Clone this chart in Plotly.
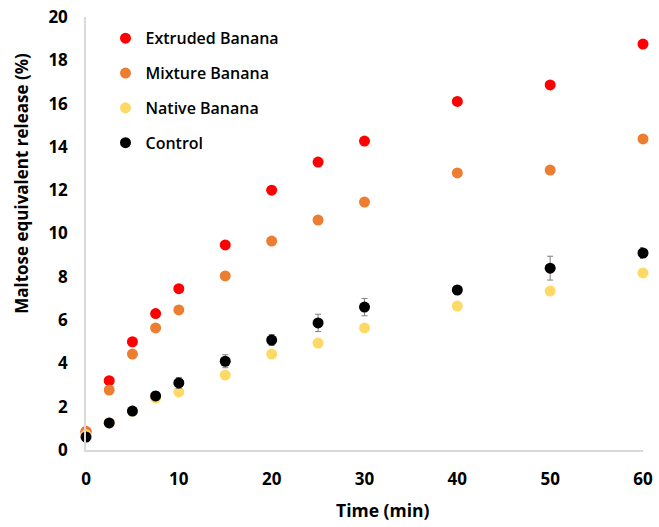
import plotly.graph_objects as go

time = [0, 2.5, 5, 7.5, 10, 15, 20, 25, 30, 40, 50, 60]
extruded = [0.85, 3.2, 5.0, 6.3, 7.45, 9.47, 12.0, 13.3, 14.27, 16.1, 16.86, 18.75]
mixture = [0.85, 2.77, 4.43, 5.64, 6.47, 8.04, 9.65, 10.62, 11.45, 12.8, 12.93, 14.37]
native = [0.7, 1.25, 1.8, 2.4, 2.68, 3.46, 4.43, 4.94, 5.64, 6.65, 7.34, 8.18]
control = [0.6, 1.25, 1.8, 2.5, 3.1, 4.1, 5.08, 5.87, 6.6, 7.39, 8.4, 9.1]
control_err = [0.05, 0.05, 0.08, 0.2, 0.25, 0.3, 0.25, 0.4, 0.4, 0.1, 0.55, 0.25]

names = ["Extruded Banana", "Mixture Banana", "Native Banana", "Control"]
colors = ["#FF0000", "#ED7D31", "#FFD966", "#000000"]
x_title = "Time (min)"
y_title = "Maltose equivalent release (%)"

fig = go.Figure()
series = [extruded, mixture, native]
for i, (vals, name, col) in enumerate(zip(series, names[:3], colors[:3])):
    fig.add_trace(go.Scatter(x=time, y=vals, mode="markers", name=name,
                             legendgroup=f"g{i}",
                             marker=dict(color=col, size=11)))
fig.add_trace(go.Scatter(x=time, y=control, mode="markers", name=names[3],
                         legendgroup="g3",
                         marker=dict(color=colors[3], size=11),
                         error_y=dict(type="data", array=control_err, visible=True,
                                      color="#7F7F7F", thickness=1, width=3)))

fig.update_layout(
    width=659, height=527,
    margin=dict(l=86, r=16, t=17, b=77),
    paper_bgcolor="white", plot_bgcolor="white",
    font=dict(family="Open Sans", color="#000000"),
    showlegend=True,
    legend=dict(x=0.035, y=0.99, xanchor="left", yanchor="top",
                font=dict(size=16, family="Open Sans", color="#000", weight=600),
                tracegroupgap=11, bgcolor="rgba(0,0,0,0)", itemwidth=30),
    xaxis=dict(range=[0, 60], tickvals=[0, 10, 20, 30, 40, 50, 60],
               showgrid=False, zeroline=False, showline=True, linecolor="#D9D9D9",
               linewidth=1.5, ticks="", automargin=False, ticklabelstandoff=13,
               ticklabeloverflow="allow",
               tickfont=dict(size=17, family="Open Sans", weight="bold")),
    yaxis=dict(range=[0, 20], tickvals=list(range(0, 21, 2)),
               showgrid=False, zeroline=False, showline=True, linecolor="#D9D9D9",
               linewidth=1.5, ticks="", automargin=False, ticklabelstandoff=13,
               ticklabeloverflow="allow",
               tickfont=dict(size=17, family="Open Sans", weight="bold")),
    annotations=[
        dict(text=x_title, xref="paper", yref="paper", x=0.533, y=-0.139,
             xanchor="center", yanchor="middle", showarrow=False,
             font=dict(size=17.5, weight="bold", family="Open Sans")),
        dict(text=y_title, xref="paper", yref="paper", x=-0.115, y=0.617,
             xanchor="center", yanchor="middle", showarrow=False, textangle=-90,
             font=dict(size=17, weight="bold", family="Open Sans")),
    ],
)
fig.update_traces(cliponaxis=False)

fig.write_html("out.html", config={"displayModeBar": False},
               post_script="document.body.style.margin='0';")
